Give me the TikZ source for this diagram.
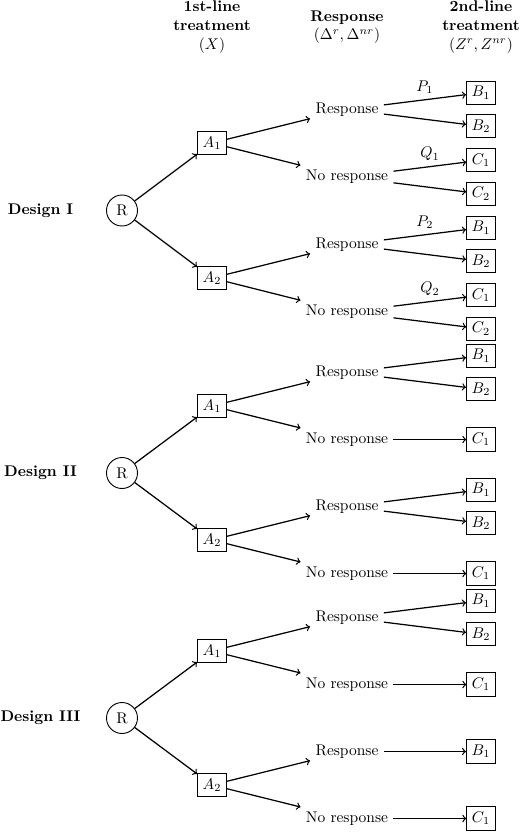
\documentclass[tikz,border=0pt]{standalone}
\usepackage{amsmath}
\usepackage{amsfonts}
\usepackage{tikz}
\usetikzlibrary{calc}

\tikzset{
  trt/.style={draw, semithick, rectangle},
  rnd/.style={draw, semithick, circle, minimum size=20pt, inner sep=0pt},
  arr/.style={->, thick},
}

\begin{document}
\begin{tikzpicture}[x=0.645pt, y=-0.645pt]

\useasboundingbox (0,0) rectangle (520,832);

%column headings
\node[align=center] (H1) at (212,27) {\textbf{1st-line}\\ \textbf{treatment}\\ \( (X) \)};
\node[align=center] (H2) at (347,27) {\textbf{Response}\\ \( (\Delta^r,\Delta^{nr}) \)};
\node[align=center] (H3) at (481,27) {\textbf{2nd-line}\\ \textbf{treatment}\\ \( (Z^r,Z^{nr}) \)};

%Design I
\node (D1) at (40.5,210.5) {\textbf{Design I}};
\node[rnd] (R1) at (122,210.5) {R};
\node[trt] (A11) at (212,143) {\( A_1 \)};
\node[trt] (A12) at (212,278) {\( A_2 \)};
\node (Re11) at (347,109.5) {Response};
\node (No11) at (347,177) {No response};
\node (Re12) at (347,244.5) {Response};
\node (No12) at (347,312) {No response};
\node[trt] (B111) at (481,92.75) {\( B_1 \)};
\node[trt] (B112) at (481,126.25) {\( B_2 \)};
\node[trt] (C111) at (481,160.25) {\( C_1 \)};
\node[trt] (C112) at (481,193.75) {\( C_2 \)};
\node[trt] (B121) at (481,227.75) {\( B_1 \)};
\node[trt] (B122) at (481,261.25) {\( B_2 \)};
\node[trt] (C121) at (481,295.25) {\( C_1 \)};
\node[trt] (C122) at (481,328.75) {\( C_2 \)};

\draw[arr] (R1) -- (A11);
\draw[arr] (R1) -- (A12);
\draw[arr] (A11) -- (Re11);
\draw[arr] (A11) -- (No11);
\draw[arr] (A12) -- (Re12);
\draw[arr] (A12) -- (No12);
\draw[arr] (Re11) -- node[above] {\( P_1 \)} (B111);
\draw[arr] (Re11) -- (B112);
\draw[arr] (No11) -- node[above] {\( Q_1 \)} (C111);
\draw[arr] (No11) -- (C112);
\draw[arr] (Re12) -- node[above] {\( P_2 \)} (B121);
\draw[arr] (Re12) -- (B122);
\draw[arr] (No12) -- node[above] {\( Q_2 \)} (C121);
\draw[arr] (No12) -- (C122);

%Design II
\node (D2) at (40.5,473) {\textbf{Design II}};
\node[rnd] (R2) at (122,473) {R};
\node[trt] (A21) at (212,406) {\( A_1 \)};
\node[trt] (A22) at (212,540) {\( A_2 \)};
\node (Re21) at (347,372.5) {Response};
\node (No21) at (347,439.5) {No response};
\node (Re22) at (347,506.5) {Response};
\node (No22) at (347,573.5) {No response};
\node[trt] (B211) at (481,355.75) {\( B_1 \)};
\node[trt] (B212) at (481,389.25) {\( B_2 \)};
\node[trt] (C211) at (481,439.5) {\( C_1 \)};
\node[trt] (B221) at (481,489.75) {\( B_1 \)};
\node[trt] (B222) at (481,523.25) {\( B_2 \)};
\node[trt] (C221) at (481,573.5) {\( C_1 \)};

\draw[arr] (R2) -- (A21);
\draw[arr] (R2) -- (A22);
\draw[arr] (A21) -- (Re21);
\draw[arr] (A21) -- (No21);
\draw[arr] (A22) -- (Re22);
\draw[arr] (A22) -- (No22);
\draw[arr] (Re21) -- (B211);
\draw[arr] (Re21) -- (B212);
\draw[arr] (No21) -- (C211);
\draw[arr] (Re22) -- (B221);
\draw[arr] (Re22) -- (B222);
\draw[arr] (No22) -- (C221);

%Design III
\node (D3) at (40.5,718) {\textbf{Design III}};
\node[rnd] (R3) at (122,718) {R};
\node[trt] (A31) at (212,651) {\( A_1 \)};
\node[trt] (A32) at (212,785) {\( A_2 \)};
\node (Re31) at (347,617.5) {Response};
\node (No31) at (347,684.5) {No response};
\node (Re32) at (347,751.5) {Response};
\node (No32) at (347,818.5) {No response};
\node[trt] (B311) at (481,600.75) {\( B_1 \)};
\node[trt] (B312) at (481,634.25) {\( B_2 \)};
\node[trt] (C311) at (481,684.5) {\( C_1 \)};
\node[trt] (B321) at (481,751.5) {\( B_1 \)};
\node[trt] (C321) at (481,818.5) {\( C_1 \)};

\draw[arr] (R3) -- (A31);
\draw[arr] (R3) -- (A32);
\draw[arr] (A31) -- (Re31);
\draw[arr] (A31) -- (No31);
\draw[arr] (A32) -- (Re32);
\draw[arr] (A32) -- (No32);
\draw[arr] (Re31) -- (B311);
\draw[arr] (Re31) -- (B312);
\draw[arr] (No31) -- (C311);
\draw[arr] (Re32) -- (B321);
\draw[arr] (No32) -- (C321);

\end{tikzpicture}
\end{document}
